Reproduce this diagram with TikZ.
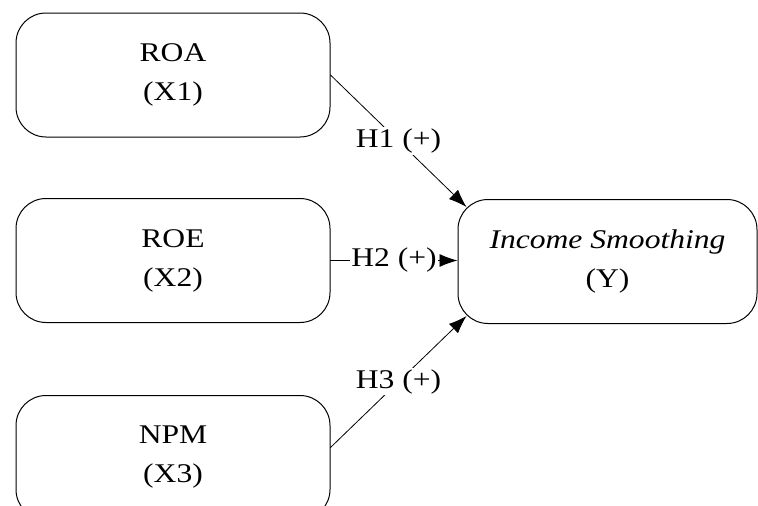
\documentclass[tikz,border=0pt]{standalone}
\usepackage{fontspec}
\setmainfont{Liberation Serif}
\usepackage{graphicx}
\usetikzlibrary{arrows.meta}
\newcommand{\sx}[1]{\scalebox{1.17}[1]{#1}}
\begin{document}
\begin{tikzpicture}[x=1pt, y=-1pt, line join=round, line cap=round, >={Latex[length=18pt,width=13pt]}, font=\fontsize{27}{39}\selectfont]
	\def\r{30pt}
	\tikzset{var/.style={draw, line width=1pt, rounded corners=\r, align=center, minimum width=314pt, minimum height=124pt, inner sep=0pt},
		hyp/.style={fill=white, inner sep=1.5pt}}
	\useasboundingbox (0,0) rectangle (758,506);
	\clip (0,0) rectangle (758,506);
	\node[var] (roa) at (173,75) {\sx{ROA}\\\sx{(X1)}};
	\node[var] (roe) at (173,260.5) {\sx{ROE}\\\sx{(X2)}};
	\node[var] (npm) at (173,457.5) {\sx{NPM}\\\sx{(X3)}};
	\node[var, minimum width=299pt] (inc) at (607.5,261.5) {\sx{\textit{Income Smoothing}}\\\sx{(Y)}};
	\draw[->, line width=.8pt] (roa.east) -- node[hyp]{\sx{H1 (+)}} ([shift={(9,8)}]inc.north west);
	\draw[->, line width=.8pt] (roe.east) -- node[hyp]{\sx{H2 (+)}} (roe.east -| inc.west);
	\draw[->, line width=.8pt] ([yshift=10pt]npm.east) -- node[hyp]{\sx{H3 (+)}} ([shift={(9,-8)}]inc.south west);
\end{tikzpicture}
\end{document}
